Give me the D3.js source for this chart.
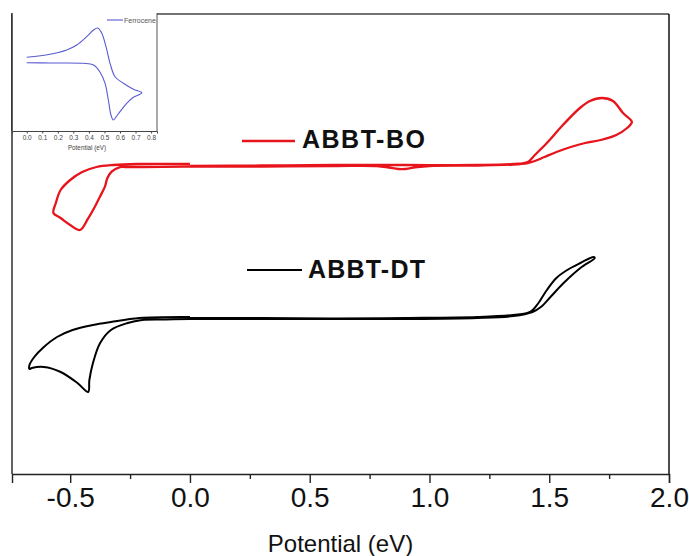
<!DOCTYPE html>
<html><head><meta charset="utf-8">
<script src="https://cdn.jsdelivr.net/npm/d3@7"></script>
<style>
html,body{margin:0;padding:0;background:#fff;}
svg{display:block;font-family:"Liberation Sans",Arial,sans-serif;}
</style></head>
<body>
<svg id="chart" width="689" height="556"></svg>
<script>
// ---------------- DATA ----------------
const xTicks = [-0.5, 0.0, 0.5, 1.0, 1.5, 2.0];
const xMinorTicks = [-0.25, 0.25, 0.75, 1.25, 1.75];
const xTitle = "Potential (eV)";
const seriesNames = ["ABBT-BO", "ABBT-DT"];

// ABBT-BO cyclic voltammogram (potential, current a.u.)
const boE = [0,0.3,0.6,0.9,1.2,1.35,1.41,1.44,1.49,1.557,1.628,1.67,1.72,1.766,1.808,1.845,
  1.825,1.78,1.715,1.65,1.59,1.53,1.48,1.44,1.41,1.35,1.2,1.0,0.95,0.9,0.87,0.83,0.78,0.6,0.3,0,-0.2,-0.27,-0.292,-0.327,
  -0.345,-0.355,-0.376,-0.397,-0.425,-0.459,-0.50,-0.54,-0.57,
  -0.56,-0.54,-0.50,-0.45,-0.39,-0.32,-0.22,0];
const boI = [308,308.5,309,309,309,310,312,319,331,349,366,373,376,373,361,352,
  346,339,334,331,327,322,317,313,311,309.5,308.5,308,307,305,305,306.5,308,308,307.5,307.5,307,307,306.8,302.3,
  295.7,287.3,277.3,267.3,255.7,244,249,256,261,
  271,284,294,302,307,309,310,310];

// ABBT-DT cyclic voltammogram
const dtE = [0,0.3,0.6,0.9,1.2,1.35,1.42,1.455,1.49,1.53,1.575,1.63,1.685,
  1.69,1.63,1.56,1.505,1.465,1.43,1.35,1.2,0.9,0.6,0.3,0,-0.1,-0.2,
  -0.26,-0.33,-0.375,-0.405,-0.42,-0.425,-0.47,-0.54,-0.61,-0.66,-0.67,
  -0.67,-0.65,-0.61,-0.555,-0.49,-0.405,-0.33,-0.21,0];
const dtI = [156,156,155.5,156,157,159,162,171,184,196,204,211,217,
  216,206,191,177,167,162,158,156,155,155,155,155,154.5,154,
  151,144,131,111,94,82,91,102,107,106,105,
  109,117,127,137,144,149,152,156,157];

// Inset: Ferrocene
const fcTicks = [0.0,0.1,0.2,0.3,0.4,0.5,0.6,0.7,0.8];
const fcName = "Ferrocene";
const fcE = [0,0.15,0.364,0.43,0.47,0.504,0.525,0.542,0.557,0.579,0.60,0.643,0.686,0.74,
  0.686,0.622,0.568,0.536,0.51,0.483,0.457,0.43,0.386,0.322,0.257,0.15,0];
const fcI = [68.3,68,67.7,66,59.3,47.7,31,16,11,15,19.3,27.7,33.7,38.3,
  41.7,47.7,54.3,67.7,84.3,97.7,103,101,94.3,86,81,76.7,73.7];

// ---------------- CHART ----------------
const svg = d3.select("#chart");
const M = {left:12, right:669, top:14, bottom:474};
const x = d3.scaleLinear().domain([-0.743, 2.0]).range([M.left, M.right]);
const y = d3.scaleLinear().domain([0, 460]).range([M.bottom, M.top]);
const fmt = d => d.toFixed(1);

const line = d3.line().curve(d3.curveCatmullRom.alpha(0.5));

function draw(E, I, color, w) {
  svg.append("path")
    .attr("d", line(E.map((e,i)=>[x(e), y(I[i])])))
    .attr("fill","none").attr("stroke",color).attr("stroke-width",w)
    .attr("stroke-linejoin","round");
}
draw(boE, boI, "#e8141c", 2.3);
draw(dtE, dtI, "#000", 2.0);

// frame
svg.append("line").attr("x1",M.left).attr("x2",M.right).attr("y1",M.top).attr("y2",M.top)
  .attr("stroke","#444").attr("stroke-width",1.4);
svg.append("line").attr("x1",M.right).attr("x2",M.right).attr("y1",M.top).attr("y2",M.bottom)
  .attr("stroke","#000").attr("stroke-width",1.4);
svg.append("line").attr("x1",M.left).attr("x2",M.left).attr("y1",M.top).attr("y2",M.bottom)
  .attr("stroke","#222").attr("stroke-width",1.4);

// x axis
const gx = svg.append("g").attr("transform",`translate(0,${M.bottom})`);
gx.call(d3.axisBottom(x).tickValues(xMinorTicks).tickSize(5).tickFormat(""));
gx.call(g=>g.select(".domain").remove());
const gx2 = svg.append("g").attr("transform",`translate(0,${M.bottom})`);
gx2.call(d3.axisBottom(x).tickValues(xTicks).tickSize(9).tickPadding(4).tickFormat(fmt));
gx2.select(".domain").attr("stroke","#222").attr("stroke-width",1.4);
[gx, gx2].forEach(g=>g.selectAll(".tick line").attr("stroke","#222").attr("stroke-width",1.4));
gx2.selectAll(".tick text").attr("font-size",28).attr("fill","#111")
  .attr("font-family","'Liberation Sans',Arial,sans-serif");
svg.append("text").attr("x",(M.left+M.right)/2).attr("y",552).attr("text-anchor","middle")
  .attr("font-size",24).attr("fill","#111").text(xTitle);

// legends
svg.append("line").attr("x1",242).attr("x2",295).attr("y1",141).attr("y2",141)
  .attr("stroke","#e8141c").attr("stroke-width",2.3);
svg.append("text").attr("x",302).attr("y",148).attr("font-size",25).attr("font-weight","bold")
  .attr("letter-spacing",1.5).attr("fill","#111").text(seriesNames[0]);
svg.append("line").attr("x1",247).attr("x2",302).attr("y1",270).attr("y2",270)
  .attr("stroke","#000").attr("stroke-width",2.0);
svg.append("text").attr("x",308).attr("y",278).attr("font-size",25).attr("font-weight","bold")
  .attr("letter-spacing",1.2).attr("fill","#111").text(seriesNames[1]);

// ---------------- INSET ----------------
const IM = {left:12, right:157, top:13, bottom:131};
const xi = d3.scaleLinear().domain([-0.0945, 0.838]).range([IM.left, IM.right]);
const yi = d3.scaleLinear().domain([0, 118]).range([IM.bottom, IM.top]);
svg.append("rect").attr("x",IM.left).attr("y",IM.top).attr("width",IM.right-IM.left)
  .attr("height",IM.bottom-IM.top).attr("fill","#fff").attr("stroke","none");
svg.append("path").attr("d", line(fcE.map((e,i)=>[xi(e), yi(fcI[i])])))
  .attr("fill","none").attr("stroke","#5a5ad2").attr("stroke-width",1.1);
svg.append("line").attr("x1",IM.right).attr("x2",IM.right).attr("y1",IM.top).attr("y2",IM.bottom)
  .attr("stroke","#555").attr("stroke-width",1);
svg.append("line").attr("x1",IM.left).attr("x2",IM.left).attr("y1",IM.top).attr("y2",IM.bottom)
  .attr("stroke","#222").attr("stroke-width",1.4);
const gi = svg.append("g").attr("transform",`translate(0,${IM.bottom})`);
gi.call(d3.axisBottom(xi).tickValues(fcTicks).tickSize(2.5).tickPadding(2).tickFormat(fmt));
gi.select(".domain").attr("stroke","#444").attr("stroke-width",1);
gi.selectAll(".tick line").attr("stroke","#444");
gi.selectAll(".tick text").attr("font-size",6.5).attr("fill","#444")
  .attr("font-family","'Liberation Sans',Arial,sans-serif");
svg.append("text").attr("x",87).attr("y",150).attr("text-anchor","middle")
  .attr("font-size",6.3).attr("fill","#444").text(xTitle);
svg.append("line").attr("x1",107).attr("x2",123).attr("y1",20).attr("y2",20)
  .attr("stroke","#5a5ad2").attr("stroke-width",1.1);
svg.append("text").attr("x",124).attr("y",22.5).attr("font-size",7).attr("fill","#555").text(fcName);
</script>
</body></html>
